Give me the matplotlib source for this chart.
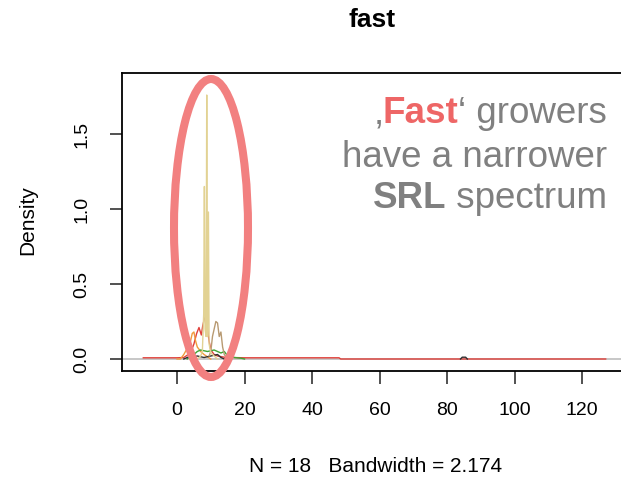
import matplotlib
matplotlib.use("Agg")
import matplotlib.pyplot as plt
from matplotlib.patches import Ellipse

plt.rcParams['font.family'] = ['Liberation Sans', 'DejaVu Sans']

# density curves (x = SRL, y = density)
red_x = [-10, 0, 2, 4, 5, 5.8, 6.5, 7.2, 7.6, 8.0, 8.6, 9.0, 9.5, 10, 11, 12, 14, 16, 20, 48, 48.5, 127]
red_y = [0.008, 0.008, 0.01, 0.04, 0.10, 0.17, 0.21, 0.16, 0.22, 0.26, 0.33, 0.20, 0.12, 0.06, 0.03, 0.02, 0.012, 0.01, 0.008, 0.008, 0.0, 0.0]

orange_x = [0, 1, 2, 3, 4, 4.5, 5, 5.5, 6, 7, 8, 10]
orange_y = [0, 0.0, 0.03, 0.07, 0.12, 0.17, 0.18, 0.12, 0.08, 0.05, 0.03, 0]

green_x = [3, 4, 5, 6, 7, 9, 11, 13, 14, 15, 17, 19, 20]
green_y = [0, 0.02, 0.03, 0.05, 0.06, 0.05, 0.06, 0.04, 0.05, 0.02, 0.01, 0.005, 0]

black_x = [2, 3, 4, 5, 6, 8, 10, 12, 13, 14]
black_y = [0, 0.01, 0.02, 0.015, 0.02, 0.01, 0.02, 0.03, 0.01, 0]
blip_x = [84, 84.5, 85.5, 86]
blip_y = [0, 0.012, 0.012, 0]

tan_x = [9.5, 10, 10.5, 11, 11.5, 12, 12.5, 13, 13.5, 14, 15]
tan_y = [0.02, 0.05, 0.15, 0.20, 0.25, 0.24, 0.15, 0.18, 0.08, 0.03, 0]

khaki_x = [6, 7, 7.5, 7.9, 8.1, 8.3, 8.6, 8.8, 9.0, 9.3, 9.5, 10, 11, 12]
khaki_y = [0, 0.02, 0.05, 0.3, 1.15, 0.2, 0.15, 1.76, 0.15, 0.98, 0.1, 0.04, 0.02, 0]

x_ticks = [0, 20, 40, 60, 80, 100, 120]
y_ticks = [0.0, 0.5, 1.0, 1.5]

fig = plt.figure(figsize=(6.21, 4.82), dpi=100)
ax = fig.add_axes([0.1965, 0.2303, 0.8223, 0.6183])

ax.axhline(0, color='#bebebe', lw=1.2, zorder=1)
lw = 1.0
ax.plot(red_x, red_y, color='#e0403a', lw=lw)
ax.plot(orange_x, orange_y, color='#f09a3c', lw=lw)
ax.plot(green_x, green_y, color='#3ea535', lw=lw)
ax.plot(black_x, black_y, color='#303030', lw=lw)
ax.plot(blip_x, blip_y, color='#303030', lw=lw)
ax.plot(tan_x, tan_y, color='#b89a72', lw=lw)
ax.plot(khaki_x, khaki_y, color='#e2d293', lw=lw)

ax.set_xlim(-16.3, 135)
ax.set_ylim(-0.08, 1.907)
ax.set_xticks(x_ticks)
ax.set_yticks(y_ticks)
ax.set_yticklabels([f"{v:.1f}" for v in y_ticks], rotation=90, va='center')
ax.tick_params(length=9, width=1.1, labelsize=14, color='#222222')
ax.tick_params(axis='x', pad=13)
ax.tick_params(axis='y', pad=14)
for s in ax.spines.values():
    s.set_linewidth(1.3)

fig.text(0.599, 0.958, "fast", ha='center', va='center', fontsize=19, fontweight='bold')
fig.text(0.604, 0.033, "N = 18   Bandwidth = 2.174", ha='center', va='center', fontsize=15)
fig.text(0.045, 0.544, "Density", rotation=90, ha='center', va='center', fontsize=15)

# highlight ellipse
ell = Ellipse((211 / 621, 1 - 228 / 482), 74 / 621, 298 / 482, transform=fig.transFigure,
              fill=False, edgecolor='#f28080', lw=5.8, clip_on=False, zorder=10)
fig.add_artist(ell)

# annotation text
gray = '#808080'
fs = 26.5
xr = 607 / 621
t1 = fig.text(xr, 1 - 123.3 / 482, "\u2018 growers", ha='right', va='baseline', fontsize=fs, color=gray)
t1b = ax.annotate("Fast", xy=(0, 0), xycoords=t1, ha='right', va='bottom',
                  fontsize=fs, color='#ee6666', fontweight='bold')
ax.annotate("\u201a", xy=(0, 0), xycoords=t1b, ha='right', va='bottom', fontsize=fs, color=gray)
fig.text(xr, 1 - 166.7 / 482, "have a narrower", ha='right', va='baseline', fontsize=fs, color=gray)
t3 = fig.text(xr, 1 - 208.3 / 482, " spectrum", ha='right', va='baseline', fontsize=fs, color=gray)
ax.annotate("SRL", xy=(0, 0), xycoords=t3, ha='right', va='bottom', fontsize=fs, color=gray,
            fontweight='bold')

fig.savefig("out.png", dpi=100)
